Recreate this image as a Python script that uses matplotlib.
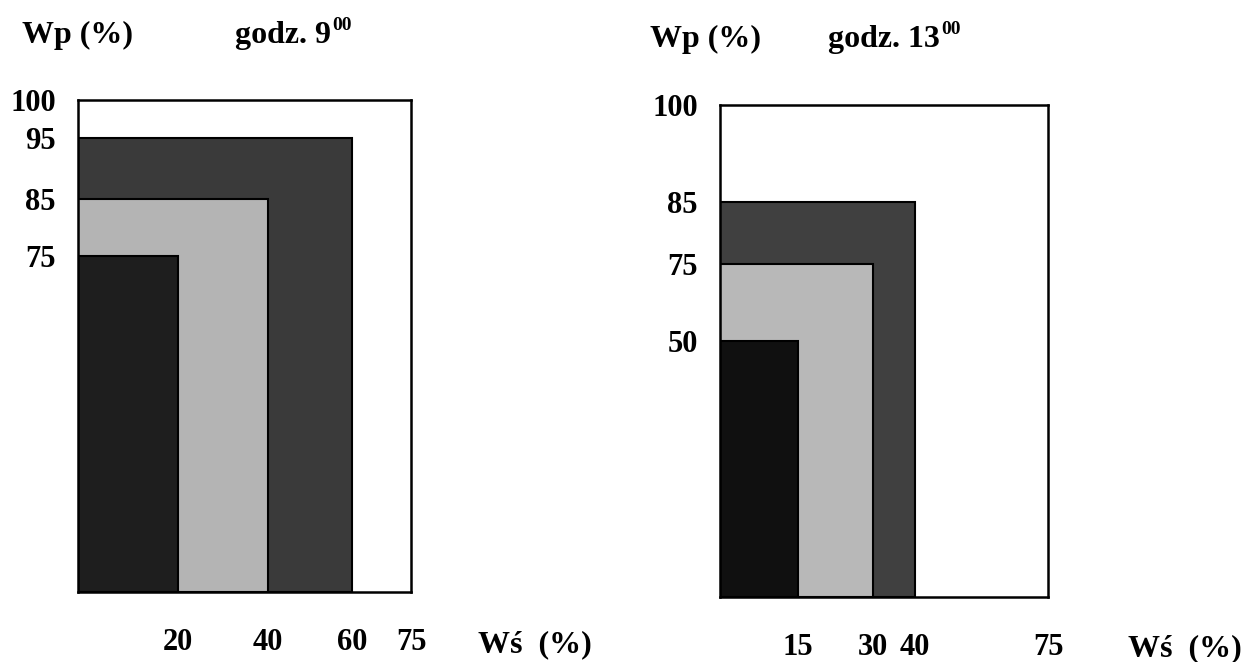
import numpy as np
import matplotlib
matplotlib.use("Agg")
import matplotlib.pyplot as plt

plt.rcParams['font.family'] = ['Liberation Serif', 'DejaVu Serif']
plt.rcParams['font.weight'] = 'bold'

# Data: nested zones, Ws (%) against Wp (%)
ws_9 = [20, 40, 60]
wp_9 = [75, 85, 95]
ws_13 = [15, 30, 40]
wp_13 = [50, 75, 85]
ws_max = 75
wp_max = 100

# grey shades, innermost zone first
zone_colors_9 = ['#1e1e1e', '#b4b4b4', '#3a3a3a']
zone_colors_13 = ['#101010', '#b8b8b8', '#404040']

# the original drawing is not to scale: share of axis length at each tick value
x_warp_9 = ([0, 20, 40, 60, 75], [0, 0.300, 0.571, 0.823, 1])
y_warp_9 = ([0, 75, 85, 95, 100], [0, 0.683, 0.799, 0.923, 1])
x_warp_13 = ([0, 15, 30, 40, 75], [0, 0.238, 0.466, 0.595, 1])
y_warp_13 = ([0, 50, 75, 85, 100], [0, 0.520, 0.677, 0.803, 1])


def warp_scale(vals, pos):
    fwd = lambda v: np.interp(v, vals, pos)
    inv = lambda p: np.interp(p, pos, vals)
    return (fwd, inv)


def draw_panel(ax, ws, wp, colors, xw, yw):
    ax.set_xscale('function', functions=warp_scale(*xw))
    ax.set_yscale('function', functions=warp_scale(*yw))
    # outermost zone first so the inner ones sit on top
    for w, h, c in reversed(list(zip(ws, wp, colors))):
        ax.bar(0, h, width=w, align='edge', color=c, edgecolor='black', linewidth=1.5)
    ax.set_xlim(0, ws_max)
    ax.set_ylim(0, wp_max)
    ax.set_xticks(ws + [ws_max])
    ax.set_yticks(wp + [wp_max])
    ax.tick_params(length=0, labelsize=22)
    ax.tick_params(axis='x', pad=26)
    ax.tick_params(axis='y', pad=16)
    for s in ax.spines.values():
        s.set_linewidth(1.8)


fig = plt.figure(figsize=(12.52, 6.62), dpi=100)
ax1 = fig.add_axes([0.0623, 0.1057, 0.2660, 0.7432])
ax2 = fig.add_axes([0.5751, 0.0982, 0.2620, 0.7432])

draw_panel(ax1, ws_9, wp_9, zone_colors_9, x_warp_9, y_warp_9)
draw_panel(ax2, ws_13, wp_13, zone_colors_13, x_warp_13, y_warp_13)

W, H = 1252, 662


def label(x, y, s, size=23):
    return fig.text(x / W, 1 - y / H, s, fontsize=size, va='baseline')


def superscript(ax, base, s):
    ax.annotate(s, xy=(1, 1), xycoords=base, xytext=(1, 3), textcoords='offset points',
                fontsize=14, va='top', ha='left')


label(22, 43, 'Wp (%)')
t1 = label(235, 43, 'godz. 9')
superscript(ax1, t1, '00')

label(650, 47, 'Wp (%)')
t2 = label(828, 47, 'godz. 13')
superscript(ax2, t2, '00')

label(478, 652, 'Wś  (%)')
label(1128, 656, 'Wś  (%)')

fig.savefig('out.png', dpi=100)
